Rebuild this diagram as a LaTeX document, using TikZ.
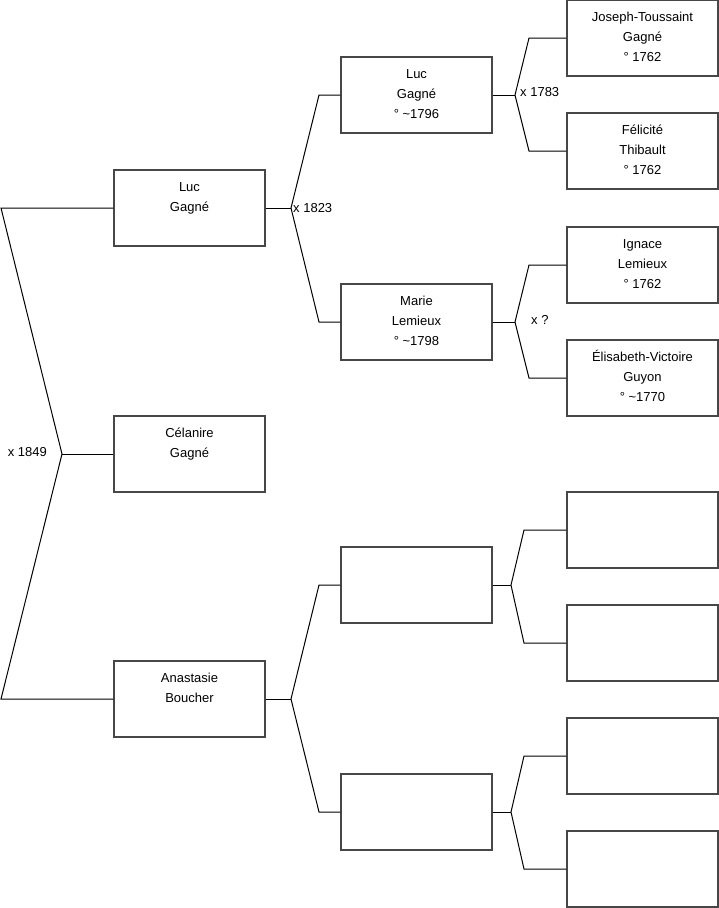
\documentclass[tikz,border=0pt]{standalone}
\usepackage{fontspec}
\setmainfont{Liberation Sans}
\newcommand{\bxt}[1]{\parbox[t][76pt][t]{151pt}{\centering\rule{0pt}{21.5pt}#1}}
\begin{document}
\begin{tikzpicture}[x=1pt,y=-1pt,
  box/.style={draw=black!72, line width=1.2pt, rectangle, inner sep=0pt,
    minimum width=151pt, minimum height=76pt, font=\fontsize{13}{20}\selectfont},
  conn/.style={draw=black, line width=1pt},
  lbl/.style={inner sep=0pt, font=\fontsize{13}{16}\selectfont}]
\useasboundingbox (0,0) rectangle (719,908);
% column 1
\node[box] (L1) at (189.5,208) {\bxt{Luc\\Gagné}};
\node[box] (C1) at (189.5,454) {\bxt{Célanire\\Gagné}};
\node[box] (A1) at (189.5,699) {\bxt{Anastasie\\Boucher}};
% column 2
\node[box] (L2) at (416.5,95) {\bxt{Luc\\Gagné\\° \textasciitilde1796}};
\node[box] (M2) at (416.5,322) {\bxt{Marie\\Lemieux\\° \textasciitilde1798}};
\node[box] (E2a) at (416.5,585) {};
\node[box] (E2b) at (416.5,812) {};
% column 3
\node[box] (JT) at (642.5,38) {\bxt{Joseph-Toussaint\\Gagné\\° 1762}};
\node[box] (FT) at (642.5,151) {\bxt{Félicité\\Thibault\\° 1762}};
\node[box] (IL) at (642.5,265) {\bxt{Ignace\\Lemieux\\° 1762}};
\node[box] (EG) at (642.5,378) {\bxt{Élisabeth-Victoire\\Guyon\\° \textasciitilde1770}};
\node[box] (E3a) at (642.5,530) {};
\node[box] (E3b) at (642.5,643) {};
\node[box] (E3c) at (642.5,756) {};
\node[box] (E3d) at (642.5,869) {};
% junctions
\coordinate (t0) at (1,208);
\coordinate (b0) at (1,699);
\coordinate (j0) at (62,454);
\coordinate (j1) at (291,208);
\coordinate (j1a) at (319,95);
\coordinate (j1b) at (319,322);
\coordinate (j2) at (291,699);
\coordinate (j2a) at (319,585);
\coordinate (j2b) at (319,812);
\coordinate (j3) at (515,95);
\coordinate (j3a) at (529,38);
\coordinate (j3b) at (529,151);
\coordinate (j4) at (515,322);
\coordinate (j4a) at (529,265);
\coordinate (j4b) at (529,378);
\coordinate (j5) at (511,585);
\coordinate (j5a) at (524,530);
\coordinate (j5b) at (524,643);
\coordinate (j6) at (511,812);
\coordinate (j6a) at (524,756);
\coordinate (j6b) at (524,869);
% connectors
\draw[conn] (L1.west) -- (t0) -- (j0) -- (b0) -- (A1.west);
\draw[conn] (j0) -- (C1.west);
\draw[conn] (L1.east) -- (j1);
\draw[conn] (L2.west) -- (j1a) -- (j1) -- (j1b) -- (M2.west);
\draw[conn] (A1.east) -- (j2);
\draw[conn] (E2a.west) -- (j2a) -- (j2) -- (j2b) -- (E2b.west);
\draw[conn] (L2.east) -- (j3);
\draw[conn] (JT.west) -- (j3a) -- (j3) -- (j3b) -- (FT.west);
\draw[conn] (M2.east) -- (j4);
\draw[conn] (IL.west) -- (j4a) -- (j4) -- (j4b) -- (EG.west);
\draw[conn] (E2a.east) -- (j5);
\draw[conn] (E3a.west) -- (j5a) -- (j5) -- (j5b) -- (E3b.west);
\draw[conn] (E2b.east) -- (j6);
\draw[conn] (E3c.west) -- (j6a) -- (j6) -- (j6b) -- (E3d.west);
% labels
\node[lbl, anchor=east] (m0) at (47,452) {x 1849};
\node[lbl, anchor=west] (m1) at (293,208) {x 1823};
\node[lbl, anchor=west] (m3) at (520,92) {x 1783};
\node[lbl, anchor=west] (m4) at (531,320) {x ?};
\end{tikzpicture}
\end{document}
